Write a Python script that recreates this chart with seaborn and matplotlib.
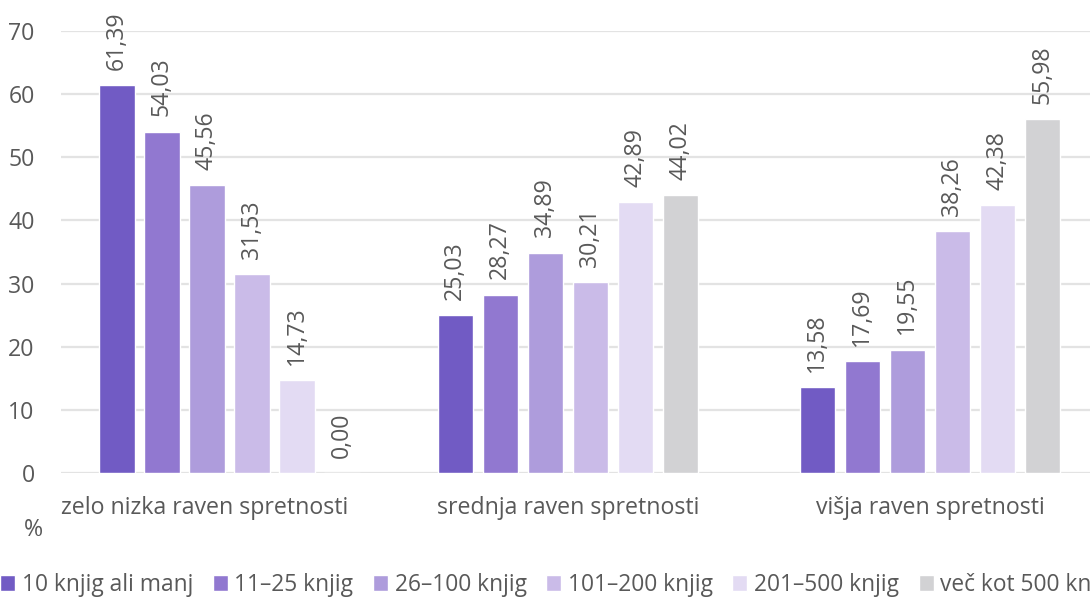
import pandas as pd
import matplotlib.pyplot as plt
import seaborn as sns

# data
groups = ["zelo nizka raven spretnosti", "srednja raven spretnosti", "višja raven spretnosti"]
series = ["10 knjig ali manj", "11–25 knjig", "26–100 knjig",
          "101–200 knjig", "201–500 knjig", "več kot 500 knjig"]
s_10 = [61.39, 25.03, 13.58]
s_25 = [54.03, 28.27, 17.69]
s_100 = [45.56, 34.89, 19.55]
s_200 = [31.53, 30.21, 38.26]
s_500 = [14.73, 42.89, 42.38]
s_more = [0.00, 44.02, 55.98]
colors = ["#715bc4", "#9178d0", "#ae9cdc", "#cabbe8", "#e3dbf3", "#d2d2d4"]

# group slots on the x axis (the source spaces them slightly unevenly)
group_pos = [0.0, 0.966, 2.0]

rows = []
for name, vals in zip(series, [s_10, s_25, s_100, s_200, s_500, s_more]):
    for p, v in zip(group_pos, vals):
        rows.append({"pos": p, "series": name, "value": v})
df = pd.DataFrame(rows)

sns.set_style("white")
plt.rcParams['font.family'] = ['Open Sans', 'DejaVu Sans']
text_col = "#595959"
fs = 16.7
leg_fs = 16.4

fig = plt.figure(figsize=(10.9, 5.98), dpi=100)
ax = fig.add_axes([61 / 1090, 1 - 473.3 / 598, 1 - 61 / 1090, (473.3 - 30.7) / 598])

sns.barplot(data=df, x="pos", y="value", hue="series", palette=colors, native_scale=True,
            width=0.771 / 0.966, gap=0.21, ax=ax, saturation=1, legend=True)

for cont in ax.containers:
    labels = [f"{b.get_height():.2f}".replace(".", ",") for b in cont]
    ax.bar_label(cont, labels=labels, rotation=90, padding=11, fontsize=fs, color=text_col)

ax.set_ylim(0, 70)
ax.set_xlim(-0.481, 2.457)
ax.set_yticks(range(0, 71, 10))
ax.yaxis.grid(True, color="#e3e3e3", lw=1.6)
ax.xaxis.grid(False)
ax.set_axisbelow(True)
ax.tick_params(axis="y", length=0, pad=19, labelsize=fs, labelcolor=text_col)
ax.set_xticks([])
ax.set_xlabel("")
ax.set_ylabel("")
for s in ax.spines.values():
    s.set_visible(False)

# category labels, the first one kept inside the plot edge
for i, g in enumerate(groups):
    if i == 0:
        ax.text(0.0, -35 / 442.6, g, transform=ax.transAxes, ha="left", va="center",
                fontsize=fs, color=text_col)
    else:
        ax.text(group_pos[i], -35 / 442.6, g, transform=ax.get_xaxis_transform(),
                ha="center", va="center", fontsize=fs, color=text_col)

fig.text(33 / 1090, 1 - 530 / 598, "%", ha="center", va="center", fontsize=fs, color=text_col)

handles, labs = ax.get_legend_handles_labels()
ax.get_legend().remove()
fig.legend(handles, labs, loc="center left", bbox_to_anchor=(0.0, 1 - 585 / 598), ncol=6,
           frameon=False, fontsize=leg_fs, labelcolor=text_col, handlelength=0.66,
           handleheight=0.66, handletextpad=0.3, columnspacing=0.85, borderpad=0,
           borderaxespad=0)

plt.savefig("out.png", dpi=100)
